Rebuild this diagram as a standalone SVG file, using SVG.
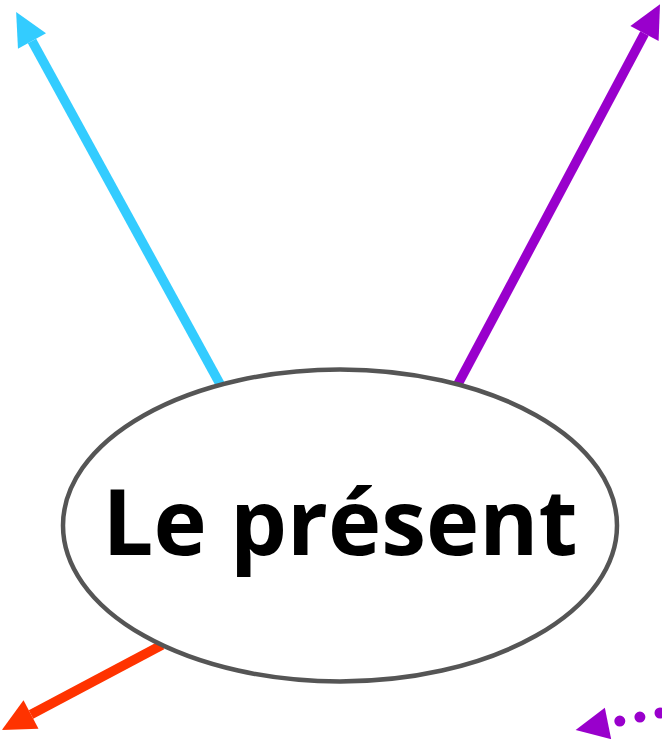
<svg xmlns="http://www.w3.org/2000/svg" width="662" height="739" viewBox="0 0 662 739">
<style>
.c{fill:none;stroke-width:9.5;stroke-linecap:butt}
.node{fill:#fff;stroke:#555;stroke-width:4.5}
.lbl{font-family:"Open Sans","Liberation Sans",Arial,sans-serif;font-weight:bold;font-size:92px;fill:#000}
</style>
<defs>
<marker id="hc" markerUnits="userSpaceOnUse" viewBox="0 -17 34 34" refX="0" refY="0" markerWidth="34" markerHeight="34" orient="auto" overflow="visible"><path d="M0,-16 L33,0 L0,16 z" fill="#33CCFF"/></marker>
<marker id="hp" markerUnits="userSpaceOnUse" viewBox="0 -17 34 34" refX="0" refY="0" markerWidth="34" markerHeight="34" orient="auto" overflow="visible"><path d="M0,-16 L33,0 L0,16 z" fill="#9900CC"/></marker>
<marker id="ho" markerUnits="userSpaceOnUse" viewBox="0 -17 34 34" refX="0" refY="0" markerWidth="34" markerHeight="34" orient="auto" overflow="visible"><path d="M0,-16 L33,0 L0,16 z" fill="#FF3300"/></marker>
</defs>
<g id="connectors">
<path class="c" stroke="#33CCFF" d="M220,384 L32,41" marker-end="url(#hc)"/>
<path class="c" stroke="#9900CC" d="M458,384 L644.5,33.5" marker-end="url(#hp)"/>
<path class="c" stroke="#FF3300" d="M162,645 L31,714.5" marker-end="url(#ho)"/>
<path fill="none" stroke="#9900CC" stroke-width="11" stroke-linecap="round" stroke-dasharray="0 20.5" d="M660,713 L608,723.5" marker-end="url(#hp)"/>
</g>
<g id="node-present">
<ellipse class="node" cx="340" cy="525.5" rx="277" ry="156"/>
<text class="lbl" x="340" y="555" text-anchor="middle" textLength="475" lengthAdjust="spacingAndGlyphs">Le présent</text>
</g>
</svg>
